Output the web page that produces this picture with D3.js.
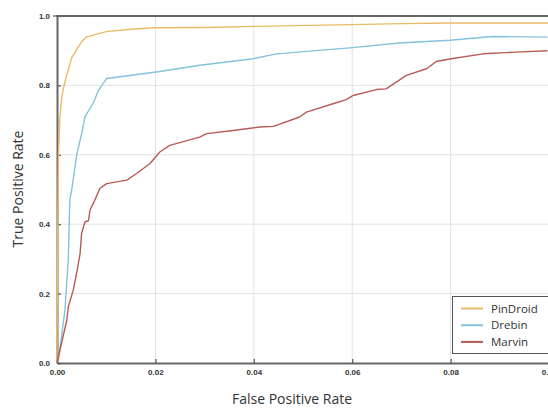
<!DOCTYPE html>
<html><head><meta charset="utf-8">
<script src="https://cdn.jsdelivr.net/npm/d3@7"></script>
<style>body{margin:0;background:#fff}svg{display:block}</style>
</head><body>
<script>
const seriesNames = ["PinDroid", "Drebin", "Marvin"];
const seriesColors = ["#ebba66", "#85c2dc", "#b75b57"];
const xTicks = [0, 0.02, 0.04, 0.06, 0.08, 0.10];
const yTicks = [0, 0.2, 0.4, 0.6, 0.8, 1.0];
const pinDroidFpr = [0, 0.0001, 0.0003, 0.0006, 0.001, 0.0016, 0.003, 0.0043, 0.005, 0.006, 0.01, 0.015, 0.02, 0.03, 0.04, 0.06, 0.07, 0.08, 0.1];
const pinDroidTpr = [0, 0.3, 0.6, 0.71, 0.77, 0.81, 0.88, 0.91, 0.925, 0.94, 0.955, 0.962, 0.966, 0.967, 0.970, 0.975, 0.978, 0.98, 0.98];
const drebinFpr = [0, 0.0003, 0.0016, 0.0023, 0.0026, 0.003, 0.004, 0.005, 0.0057, 0.0074, 0.0084, 0.0101, 0.0209, 0.029, 0.0399, 0.0446, 0.0595, 0.0696, 0.0798, 0.0885, 0.0997];
const drebinTpr = [0, 0.01, 0.15, 0.30, 0.47, 0.50, 0.60, 0.66, 0.71, 0.75, 0.785, 0.82, 0.84, 0.858, 0.877, 0.891, 0.908, 0.922, 0.93, 0.941, 0.939];
const marvinFpr = [0, 0.002, 0.0023, 0.0033, 0.004, 0.0047, 0.005, 0.0057, 0.0064, 0.0067, 0.0077, 0.0087, 0.0101, 0.0142, 0.0162, 0.0189, 0.0209, 0.0229, 0.029, 0.0304, 0.0358, 0.0412, 0.044, 0.0493, 0.0507, 0.0561, 0.0588, 0.0602, 0.0649, 0.0669, 0.071, 0.0751, 0.0771, 0.0798, 0.0866, 0.0933, 0.0997];
const marvinTpr = [0, 0.124, 0.162, 0.21, 0.26, 0.316, 0.374, 0.407, 0.41, 0.44, 0.47, 0.503, 0.517, 0.527, 0.546, 0.575, 0.608, 0.627, 0.651, 0.661, 0.670, 0.680, 0.682, 0.709, 0.723, 0.747, 0.759, 0.771, 0.788, 0.79, 0.829, 0.848, 0.869, 0.876, 0.891, 0.896, 0.90];

const W = 548, H = 408;
const L = 57, R = 549, T = 16, B = 363;
const x = d3.scaleLinear().domain([0, 0.1]).range([L, R]);
const y = d3.scaleLinear().domain([0, 1]).range([B, T]);

const svg = d3.select("body").append("svg").attr("width", W).attr("height", H);

// grid
svg.append("g").selectAll("line.gx").data(xTicks.slice(1)).join("line")
  .attr("x1", d => x(d)).attr("x2", d => x(d)).attr("y1", T).attr("y2", B)
  .attr("stroke", "#e3e3e3").attr("stroke-width", 1);
svg.append("g").selectAll("line.gy").data(yTicks.slice(1, -1)).join("line")
  .attr("x1", L).attr("x2", W).attr("y1", d => y(d)).attr("y2", d => y(d))
  .attr("stroke", "#e3e3e3").attr("stroke-width", 1);

// axes
const fontTick = "'Liberation Sans', Arial, sans-serif";
const xAxis = svg.append("g").attr("transform", `translate(0,${B})`)
  .call(d3.axisBottom(x).tickValues(xTicks).tickFormat(d3.format(".2f")).tickSizeInner(-4).tickSizeOuter(0).tickPadding(6));
const yAxis = svg.append("g").attr("transform", `translate(${L},0)`)
  .call(d3.axisLeft(y).tickValues(yTicks).tickFormat(d3.format(".1f")).tickSizeInner(-4).tickSizeOuter(0).tickPadding(7));
[xAxis, yAxis].forEach(a => {
  a.select(".domain").attr("stroke", "#666").attr("stroke-width", 2);
  a.selectAll(".tick line").attr("stroke", "#555").attr("stroke-width", 1.2);
  a.selectAll(".tick text").attr("fill", "#333").style("font-family", fontTick)
    .style("font-size", "8px").style("font-weight", "bold");
});
// outer tick at 1.0
svg.append("line").attr("x1", L - 4).attr("x2", L).attr("y1", y(1)).attr("y2", y(1)).attr("stroke", "#555").attr("stroke-width", 1.2);
// top border
svg.append("line").attr("x1", L - 1).attr("x2", W).attr("y1", T).attr("y2", T)
  .attr("stroke", "#666").attr("stroke-width", 2);

// lines
const datasets = [
  pinDroidFpr.map((v, i) => [v, pinDroidTpr[i]]),
  drebinFpr.map((v, i) => [v, drebinTpr[i]]),
  marvinFpr.map((v, i) => [v, marvinTpr[i]])
];
const line = d3.line().x(d => x(d[0])).y(d => y(d[1]));
svg.append("g").selectAll("path").data(datasets).join("path")
  .attr("d", line).attr("fill", "none")
  .attr("stroke", (d, i) => seriesColors[i]).attr("stroke-width", 1.4)
  .attr("stroke-linejoin", "round");

// axis titles
const fontTitle = "'Open Sans', 'Noto Sans', sans-serif";
svg.append("text").attr("x", 292).attr("y", 404).attr("text-anchor", "middle")
  .style("font-family", fontTitle).style("font-size", "14px").attr("fill", "#333").text("False Positive Rate");
svg.append("text").attr("transform", "translate(23,189) rotate(-90)").attr("text-anchor", "middle")
  .style("font-family", fontTitle).style("font-size", "14px").attr("fill", "#333").text("True Positive Rate");

// legend
const lg = svg.append("g");
lg.append("rect").attr("x", 452.5).attr("y", 296.5).attr("width", 100).attr("height", 57)
  .attr("fill", "#fff").attr("stroke", "#555").attr("stroke-width", 1);
seriesNames.forEach((n, i) => {
  const yy = 308.5 + i * 16.7;
  lg.append("line").attr("x1", 461).attr("x2", 483).attr("y1", yy).attr("y2", yy)
    .attr("stroke", seriesColors[i]).attr("stroke-width", 2);
  lg.append("text").attr("x", 491).attr("y", yy + 4).style("font-family", fontTitle)
    .style("font-size", "11.5px").attr("fill", "#333").text(n);
});
</script>
</body></html>
